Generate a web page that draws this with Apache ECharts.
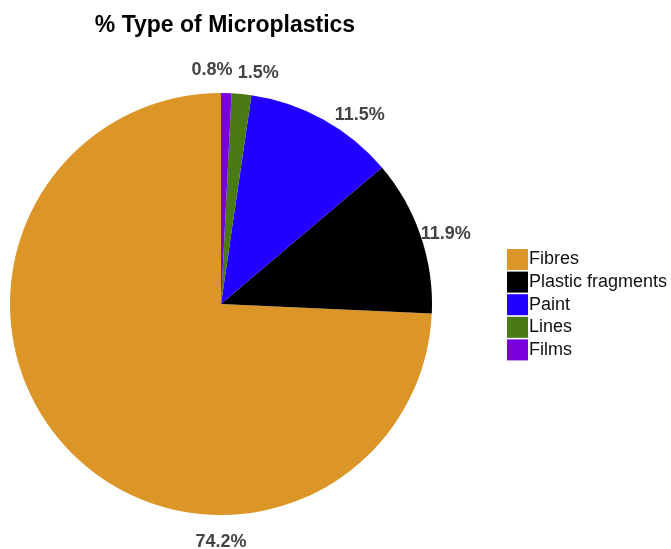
<!DOCTYPE html>
<html>
<head>
<meta charset="utf-8">
<script src="https://cdn.jsdelivr.net/npm/echarts@6/dist/echarts.min.js"></script>
<style>
  html, body { margin: 0; padding: 0; background: #fff; }
  #chart { width: 671px; height: 549px; }
</style>
</head>
<body>
<div id="chart"></div>
<script>
// Share of each microplastic type (%)
const categories = ['Fibres', 'Plastic fragments', 'Paint', 'Lines', 'Films'];
const shares = [74.2, 11.9, 11.5, 1.5, 0.8];
const palette = ['#dc9628', '#000000', '#2200ff', '#4a7a14', '#7700dd'];

// Pie geometry (pixels)
const CX = 221, CY = 304, R = 211;
const LABEL_R = 236;
// Small angular shifts (degrees) so neighbouring labels don't collide
const labelShift = { 'Fibres': 46.3, 'Plastic fragments': -1.1, 'Paint': -7, 'Lines': -3.5, 'Films': 3.6 };

const total = shares.reduce((a, b) => a + b, 0);
// Mid angle of each slice, drawn counter-clockwise from 12 o'clock
const midAngles = [];
let acc = 90;
shares.forEach(v => {
  const span = v / total * 360;
  midAngles.push(acc + span / 2);
  acc += span;
});

const chart = echarts.init(document.getElementById('chart'), null, { renderer: 'canvas' });
chart.setOption({
  animation: false,
  title: {
    text: '% Type of Microplastics',
    left: 220,
    top: 9,
    textAlign: 'center',
    textStyle: { fontFamily: 'Liberation Sans', fontSize: 23, fontWeight: 'bold', color: '#000' }
  },
  legend: {
    orient: 'vertical',
    left: 507,
    top: 249,
    padding: 0,
    itemWidth: 21,
    itemHeight: 21,
    itemGap: 1.6,
    icon: 'rect',
    data: categories,
    textStyle: { fontFamily: 'Liberation Sans', fontSize: 18, color: '#111', padding: [0, 0, 0, -4] }
  },
  series: [{
    type: 'pie',
    center: [CX, CY],
    radius: R,
    startAngle: 90,
    clockwise: false,
    avoidLabelOverlap: false,
    data: categories.map((name, i) => ({
      name: name,
      value: shares[i],
      itemStyle: { color: palette[i] }
    })),
    label: {
      show: true,
      position: 'outside',
      formatter: p => p.value.toFixed(1) + '%',
      fontFamily: 'Liberation Sans',
      fontSize: 18,
      fontWeight: 'bold',
      color: '#444'
    },
    labelLine: { show: false },
    labelLayout: function (params) {
      const i = params.dataIndex;
      const a = (midAngles[i] + (labelShift[categories[i]] || 0)) * Math.PI / 180;
      return {
        x: CX + LABEL_R * Math.cos(a),
        y: CY - LABEL_R * Math.sin(a) + 2,
        align: 'center',
        verticalAlign: 'middle'
      };
    }
  }]
});
</script>
</body>
</html>
